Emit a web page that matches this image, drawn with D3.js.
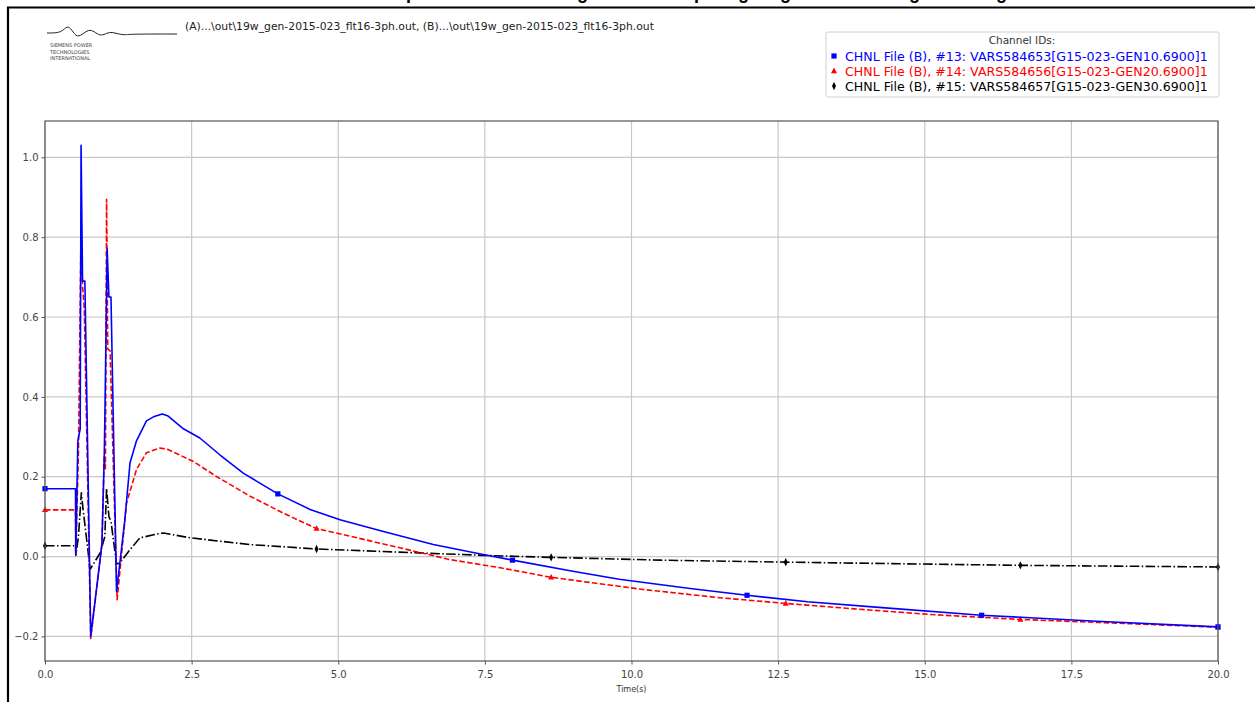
<!DOCTYPE html>
<html>
<head>
<meta charset="utf-8">
<script src="https://cdn.jsdelivr.net/npm/d3@7"></script>
<style>
  body { margin: 0; background: #fff; }
  svg { display: block; }
</style>
</head>
<body>
<div id="chart"></div>
<script>
// values: [time (s), VARS]
const chnl13 = [[0,0.17],[0.52,0.17],[0.525,0.005],[0.56,0.29],[0.60,0.32],[0.615,1.03],[0.64,0.69],[0.68,0.69],
  [0.78,-0.20],[0.97,0.03],[1.01,0.25],[1.02,0.34],[1.06,0.77],[1.09,0.65],[1.125,0.65],[1.22,-0.088],
  [1.36,0.09],[1.45,0.235],[1.56,0.29],[1.73,0.34],[1.85,0.35],[2.0,0.357],[2.1,0.352],[2.36,0.32],
  [2.64,0.297],[2.98,0.255],[3.38,0.209],[3.97,0.157],[4.52,0.118],[5.03,0.092],[5.77,0.063],[6.62,0.03],
  [7.47,0.005],[7.97,-0.009],[9.0,-0.037],[9.79,-0.057],[11.0,-0.08],[11.97,-0.097],[13.0,-0.113],
  [14.27,-0.128],[15.97,-0.147],[17.93,-0.162],[20,-0.176]]
const chnl14 = [[0,0.117],[0.52,0.117],[0.525,0.005],[0.57,0.26],[0.615,0.82],[0.64,0.68],[0.67,0.62],
  [0.78,-0.205],[0.97,0.03],[1.01,0.25],[1.03,0.22],[1.05,0.895],[1.07,0.52],[1.11,0.515],[1.23,-0.108],
  [1.39,0.134],[1.56,0.218],[1.73,0.26],[1.96,0.272],[2.1,0.268],[2.53,0.238],[2.93,0.20],[3.5,0.151],
  [4.06,0.109],[4.63,0.07],[5.2,0.051],[6.05,0.022],[6.9,-0.0075],[7.76,-0.028],[8.63,-0.052],
  [10.2,-0.0825],[11.5,-0.103],[12.63,-0.1175],[13.8,-0.131],[15.08,-0.145],[16.63,-0.1575],
  [18.3,-0.167],[20,-0.177]]
const chnl15 = [[0,0.027],[0.52,0.027],[0.525,0.003],[0.57,0.05],[0.62,0.16],[0.65,0.117],[0.77,-0.032],
  [0.94,0.009],[1.02,0.05],[1.05,0.17],[1.09,0.10],[1.125,0.088],[1.22,-0.018],[1.27,-0.017],
  [1.45,0.0175],[1.62,0.047],[1.96,0.058],[2.02,0.059],[2.47,0.047],[3.5,0.03],[4.63,0.019],
  [6.05,0.011],[7.47,0.003],[8.63,-0.002],[10.5,-0.009],[12.63,-0.014],[14.6,-0.018],[16.63,-0.022],
  [18.3,-0.024],[20,-0.026]]

// times where the markers sit
const marks13 = [0, 3.97, 7.97, 11.97, 15.97, 20]
const marks14 = [0, 4.63, 8.63, 12.63, 16.63, 20]
const marks15 = [0, 4.63, 8.63, 12.63, 16.63, 20]

const legendLabels = [
  "CHNL File (B), #13: VARS584653[G15-023-GEN10.6900]1",
  "CHNL File (B), #14: VARS584656[G15-023-GEN20.6900]1",
  "CHNL File (B), #15: VARS584657[G15-023-GEN30.6900]1"
]
const xTicks = [0, 2.5, 5, 7.5, 10, 12.5, 15, 17.5, 20]
const yTicks = [-0.2, 0, 0.2, 0.4, 0.6, 0.8, 1.0]

const fileLine = "(A)...\\out\\19w_gen-2015-023_flt16-3ph.out, (B)...\\out\\19w_gen-2015-023_flt16-3ph.out"
const titleText = "Reactive Power Output of the Generating Units - Comparing Original and Changed Settings"

const W = 1255, H = 702
const margin = { top: 121, right: 37, bottom: 41, left: 45 }
const width = W - margin.left - margin.right
const height = H - margin.top - margin.bottom

const svg = d3.select("#chart").append("svg")
    .attr("width", W)
    .attr("height", H)
    .style("font-family", "'DejaVu Sans', sans-serif")

// page frame and the title, which the page edge cuts off in the original
svg.append("text")
    .attr("x", 627).attr("y", -1)
    .attr("text-anchor", "middle")
    .style("font-family", "'Liberation Sans', Arial, sans-serif")
    .style("font-weight", "bold")
    .style("font-size", "18px")
    .text(titleText)
svg.append("path")
    .attr("d", "M8,702 L8,7.5 L1255,7.5")
    .attr("fill", "none")
    .attr("stroke", "#000")
    .attr("stroke-width", 2.2)

// logo
const logoWave = [[47,33],[62,33],[67,25],[72,30],[77,38],[84,33],[90,29],[96,33],[101,36],[107,33],[112,32],[118,34],[125,35],[131,34],[177,34]]
svg.append("path")
    .attr("d", d3.line().curve(d3.curveBasis)(logoWave))
    .attr("fill", "none")
    .attr("stroke", "#222")
    .attr("stroke-width", 1)
const logoText = ["SIEMENS POWER", "TECHNOLOGIES", "INTERNATIONAL"]
svg.selectAll(".logo")
    .data(logoText)
    .enter().append("text")
    .attr("x", 50)
    .attr("y", function (d, i) { return 47 + i * 6.5 })
    .style("font-size", "5px")
    .style("fill", "#444")
    .text(function (d) { return d })

svg.append("text")
    .attr("x", 185).attr("y", 30)
    .style("font-size", "10.8px")
    .style("fill", "#222")
    .text(fileLine)

const chart = svg.append("g")
    .attr("transform", "translate(" + margin.left + "," + margin.top + ")")

const x = d3.scaleLinear().domain([0, 20]).range([0, width])
const y = d3.scaleLinear().domain([-0.2616, 1.091]).range([height, 0])

// grid
chart.selectAll("line.vgrid")
    .data(xTicks)
    .enter().append("line")
    .attr("x1", function (d) { return x(d) }).attr("x2", function (d) { return x(d) })
    .attr("y1", 0).attr("y2", height)
    .style("stroke", "#c8c8c8").style("stroke-width", 1.2)
chart.selectAll("line.hgrid")
    .data(yTicks)
    .enter().append("line")
    .attr("y1", function (d) { return y(d) }).attr("y2", function (d) { return y(d) })
    .attr("x1", 0).attr("x2", width)
    .style("stroke", "#c8c8c8").style("stroke-width", 1.2)

const line = d3.line()
    .x(function (d) { return x(d[0]) })
    .y(function (d) { return y(d[1]) })

const series = [
  { data: chnl13, marks: marks13, color: "#0000ff", dash: null, symbol: "square" },
  { data: chnl14, marks: marks14, color: "#ff0000", dash: "5.5,2.4", symbol: "triangle" },
  { data: chnl15, marks: marks15, color: "#000000", dash: "9.6,2.4,1.5,2.4", symbol: "diamond" }
]

function drawMarker(g, symbol, color, cx, cy) {
  if (symbol === "square") {
    g.append("rect").attr("x", cx - 2.6).attr("y", cy - 2.6).attr("width", 5.2).attr("height", 5.2)
        .style("fill", color)
  } else if (symbol === "triangle") {
    g.append("path").attr("d", "M" + cx + "," + (cy - 3.4) + " L" + (cx + 3) + "," + (cy + 2.2) + " L" + (cx - 3) + "," + (cy + 2.2) + "Z")
        .style("fill", color)
  } else {
    g.append("path").attr("d", "M" + cx + "," + (cy - 4.2) + " L" + (cx + 2) + "," + cy + " L" + cx + "," + (cy + 4.2) + " L" + (cx - 2) + "," + cy + "Z")
        .style("fill", color)
  }
}

// reverse order so blue sits on top like the reference
series.slice().reverse().forEach(function (s) {
  chart.append("path")
      .datum(s.data)
      .attr("d", line)
      .attr("fill", "none")
      .attr("stroke", s.color)
      .attr("stroke-width", 1.6)
      .attr("stroke-dasharray", s.dash)
      .attr("stroke-linejoin", "round")
  const mg = chart.append("g")
  s.marks.forEach(function (t) {
    const p = s.data.find(function (d) { return d[0] === t })
    drawMarker(mg, s.symbol, s.color, x(p[0]), y(p[1]))
  })
})

// axes
const xAxis = d3.axisBottom(x).tickValues(xTicks).tickFormat(d3.format(".1f")).tickSize(3.5).tickPadding(6)
const yAxis = d3.axisLeft(y).tickValues(yTicks).tickFormat(d3.format(".1f")).tickSize(3.5).tickPadding(3)

chart.append("g")
    .attr("transform", "translate(0," + height + ")")
    .call(xAxis)
    .call(function (g) { g.select(".domain").remove() })
    .style("font-size", "10px")
chart.append("g")
    .call(yAxis)
    .call(function (g) { g.select(".domain").remove() })
    .style("font-size", "10px")
chart.selectAll(".tick text").style("fill", "#444").style("font-family", "'DejaVu Sans', sans-serif")
chart.selectAll(".tick line").style("stroke", "#555")

chart.append("rect")
    .attr("width", width).attr("height", height)
    .attr("fill", "none")
    .style("stroke", "#555")
    .style("stroke-width", 1.2)

chart.append("text")
    .attr("x", width / 2).attr("y", height + 31)
    .attr("text-anchor", "middle")
    .style("font-size", "8px")
    .style("fill", "#333")
    .text("Time(s)")

// legend
const legend = svg.append("g").attr("transform", "translate(826,32)")
legend.append("rect")
    .attr("width", 393).attr("height", 65)
    .attr("rx", 2)
    .style("fill", "#fff")
    .style("stroke", "#d0d0d0")
legend.append("text")
    .attr("x", 196).attr("y", 12)
    .attr("text-anchor", "middle")
    .style("font-size", "10.5px")
    .style("fill", "#333")
    .text("Channel IDs:")
series.forEach(function (s, i) {
  const cy = 24 + i * 15
  drawMarker(legend, s.symbol, s.color, 8, cy)
  legend.append("text")
      .attr("x", 19).attr("y", cy + 4.5)
      .style("font-size", "12.6px")
      .style("fill", s.color)
      .text(legendLabels[i])
})
</script>
</body>
</html>
